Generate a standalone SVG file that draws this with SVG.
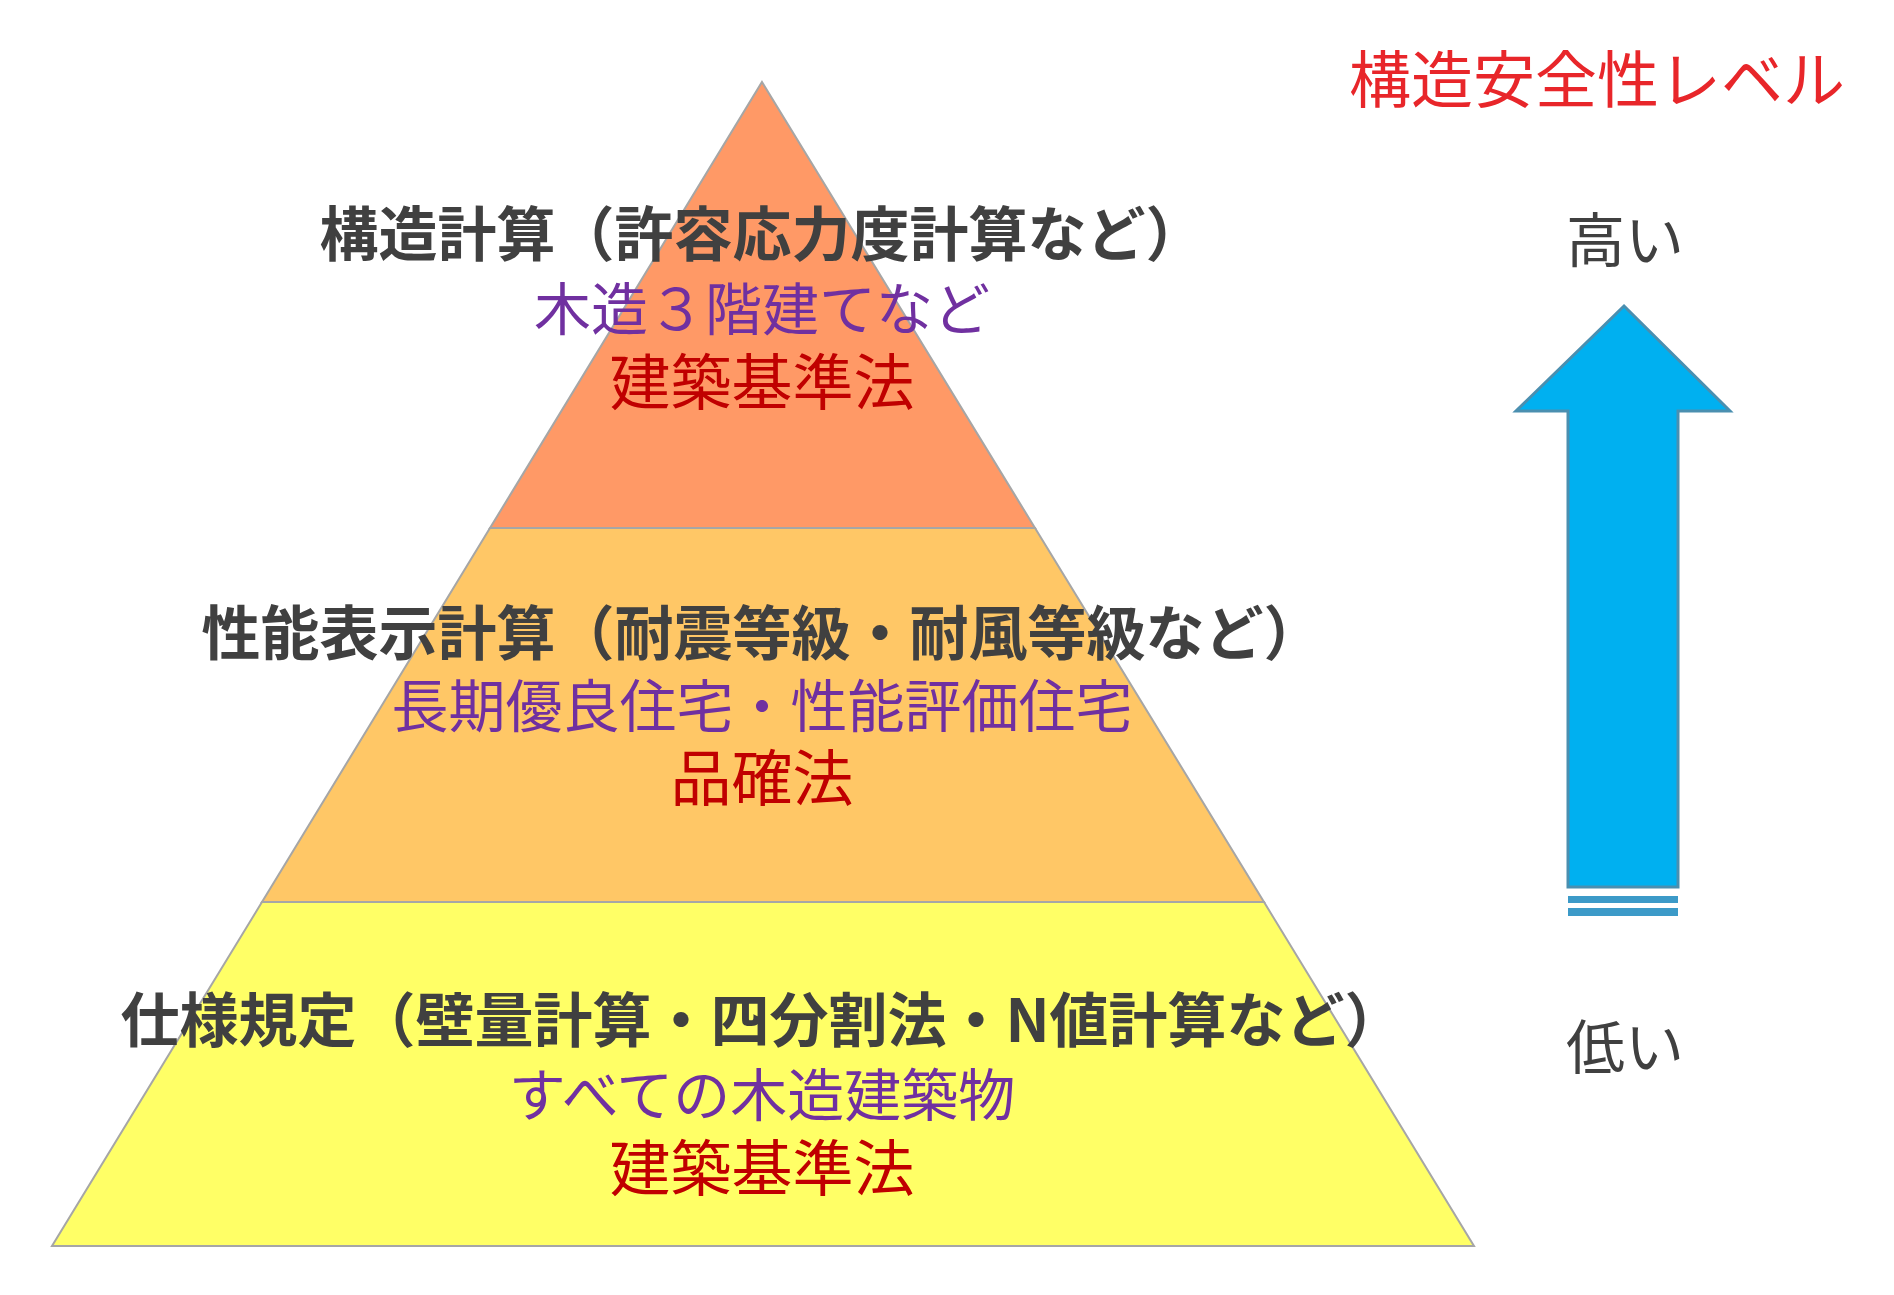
<svg xmlns="http://www.w3.org/2000/svg" width="1894" height="1295" viewBox="0 0 1894 1295">
<style>
text{font-family:"Noto Sans CJK JP","Noto Sans CJK SC",sans-serif;text-anchor:middle;dominant-baseline:central}
.h{font-weight:bold;fill:#404040;font-size:59px}
.p{fill:#7030A0;font-size:57px}
.r{fill:#C00000;font-size:61px}
.g{fill:#404040;font-size:59px}
.tier{stroke:#A6A6A6;stroke-width:2}
</style>
<rect width="1894" height="1295" fill="#fff"/>
<g id="tier-top">
<polygon class="tier" points="762,82 1035,528 490,528" fill="#FF9966"/>
<text class="h" x="762" y="230">構造計算（許容応力度計算など）</text>
<text class="p" x="762" y="305">木造３階建てなど</text>
<text class="r" x="762" y="378">建築基準法</text>
</g>
<g id="tier-mid">
<polygon class="tier" points="490,528 1035,528 1264,902 262,902" fill="#FFC766"/>
<text class="h" x="762" y="629">性能表示計算（耐震等級・耐風等級など）</text>
<text class="p" x="762" y="702" font-size="59">長期優良住宅・性能評価住宅</text>
<text class="r" x="762" y="774">品確法</text>
</g>
<g id="tier-bottom">
<polygon class="tier" points="262,902 1264,902 1474,1246 52,1246" fill="#FFFF66"/>
<text class="h" x="762" y="1016" font-size="58">仕様規定（壁量計算・四分割法・N値計算など）</text>
<text class="p" x="762" y="1091">すべての木造建築物</text>
<text class="r" x="762" y="1164">建築基準法</text>
</g>
<g id="level">
<text x="1597" y="76" fill="#E8262A" font-size="62">構造安全性レベル</text>
<text class="g" x="1625" y="236">高い</text>
<text class="g" x="1625" y="1043">低い</text>
</g>
<g id="connectors">
<polygon points="1624,306 1730,411 1678,411 1678,887 1568,887 1568,411 1516,411" fill="#00B0F0" stroke="#4A8FB0" stroke-width="3"/>
<rect x="1568" y="896" width="110" height="7" fill="#3C9AC8"/>
<rect x="1568" y="908" width="110" height="8" fill="#3C9AC8"/>
</g>
</svg>
